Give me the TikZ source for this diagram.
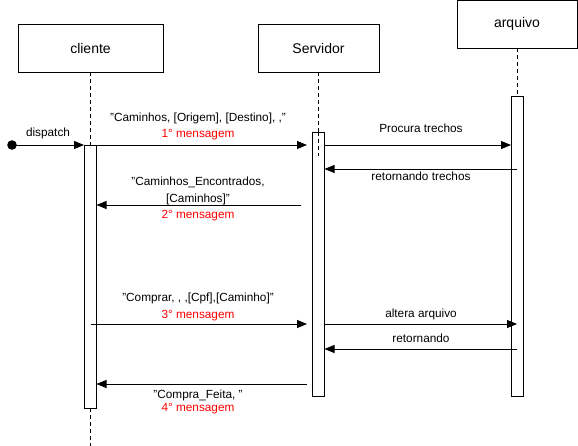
\documentclass[tikz,border=0pt]{standalone}
\usepackage{fontspec}
\setmainfont{Liberation Sans}
\usetikzlibrary{arrows.meta}
\begin{document}
\begin{tikzpicture}[x=1pt,y=-1pt,
  actor/.style={draw,line width=0.9pt,fill=white,minimum width=121pt,minimum height=48pt,inner sep=0pt,font=\fontsize{14}{16}\selectfont},
  act/.style={draw,line width=0.9pt,fill=white,minimum width=12pt,inner sep=0pt,anchor=north},
  life/.style={dashed,dash pattern=on 4pt off 3pt,line width=0.9pt},
  msg/.style={line width=0.9pt,-{Triangle[length=10pt,width=8pt]}},
  lbl/.style={font=\fontsize{11.8}{13}\selectfont,inner sep=0pt},
  red lbl/.style={lbl,text=red}]
\useasboundingbox (0,0) rectangle (578,446);
% actors
\node[actor,minimum width=145pt] (cli) at (90.5,48) {cliente};
\node[actor] (srv) at (318.5,48) {Servidor};
\node[actor,minimum width=120pt] (arq) at (517,24) {arquivo};
% lifelines
\draw[life] (cli.south) -- (90.5,446);
\draw[life] (srv.south) -- (318.5,156);
\draw[life] (arq.south) -- (517,96);
% activations
\node[act,minimum height=263pt] (acli) at (90.5,145) {};
\node[act,minimum height=264pt] (asrv) at (318.5,132) {};
\draw[life] (318.5,132) -- (318.5,156);
\node[act,minimum height=300pt] (aarq) at (517,96) {};
% dispatch
\fill (12,145) circle (4.8pt) coordinate (start);
\draw[msg] (start) -- (acli.north west);
\node[lbl] (ldisp) at (48,133) {dispatch};
% message 1
\coordinate (m1b) at (307,145);
\draw[msg] (acli.north east) -- (m1b);
\node[lbl] (l1) at (198,118) {"Caminhos, [Origem], [Destino], ,"};
\node[red lbl] (r1) at (198,135) {1° mensagem};
% procura trechos
\coordinate (p1a) at (324.5,145);
\coordinate (p1b) at (511,145);
\draw[msg] (p1a) -- (p1b);
\node[lbl] (lp) at (421,128) {Procura trechos};
% retornando trechos
\coordinate (p2a) at (517,169);
\coordinate (p2b) at (324.5,169);
\draw[msg] (p2a) -- (p2b);
\node[lbl] (lr) at (421,176) {retornando trechos};
% message 2
\coordinate (m2a) at (301,205);
\coordinate (m2b) at (96.5,205);
\draw[msg] (m2a) -- (m2b);
\node[lbl] (l2a) at (198,182) {"Caminhos\_Encontrados,};
\node[lbl] (l2b) at (198,199) {[Caminhos]"};
\node[red lbl] (r2) at (198,216) {2° mensagem};
% message 3
\coordinate (m3a) at (90.5,324);
\coordinate (m3b) at (307,324);
\draw[msg] (m3a) -- (m3b);
\node[lbl] (l3) at (198,298) {"Comprar, , ,[Cpf],[Caminho]"};
\node[red lbl] (r3) at (198,316) {3° mensagem};
% altera arquivo
\coordinate (p3a) at (324.5,324);
\coordinate (p3b) at (517,324);
\draw[msg] (p3a) -- (p3b);
\node[lbl] (la) at (421,314) {altera arquivo};
% retornando
\coordinate (p4a) at (517,349);
\coordinate (p4b) at (324.5,349);
\draw[msg] (p4a) -- (p4b);
\node[lbl] (lr2) at (421,338) {retornando};
% message 4
\coordinate (m4a) at (307,384);
\coordinate (m4b) at (96.5,384);
\draw[msg] (m4a) -- (m4b);
\node[lbl] (l4) at (198,395) {"Compra\_Feita, "};
\node[red lbl] (r4) at (198,409) {4° mensagem};
\end{tikzpicture}
\end{document}
